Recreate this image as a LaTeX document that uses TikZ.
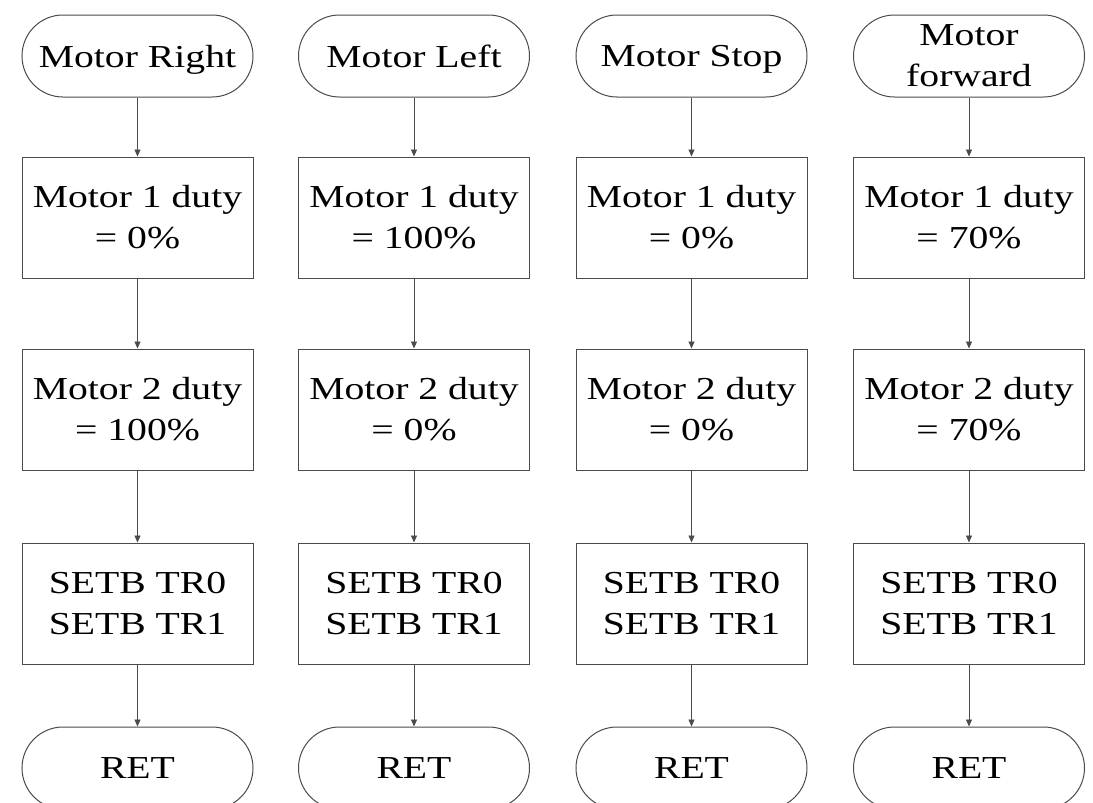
\documentclass[tikz,border=0pt]{standalone}
\usepackage{fontspec}
\setmainfont[FakeStretch=1.24]{Liberation Serif}
\usetikzlibrary{arrows.meta}
\definecolor{linec}{HTML}{4A4A4A}
\begin{document}
\begin{tikzpicture}[x=1pt,y=-1pt,
  lbl/.style={font=\fontsize{32}{41}\selectfont, text=black, align=center, inner sep=0pt},
  term/.style={lbl, draw=linec, line width=1pt, rounded corners=41pt, minimum width=231pt, minimum height=82pt, text depth=0pt},
  proc/.style={lbl, draw=linec, line width=1pt, minimum width=231pt, minimum height=121pt},
  flow/.style={draw=linec, line width=0.9pt, -{Triangle[length=7pt,width=6pt]}}]
\useasboundingbox (0,0) rectangle (1093,803);
\fill[white] (0,0) rectangle (1093,803);
\clip (0,0) rectangle (1093,803);
% column 1
\node[term] (t1) at (137.5,56) {Motor Right};
\node[proc] (a1) at (137.5,217.5) {Motor 1 duty\\= 0\%};
\node[proc] (b1) at (137.5,409.5) {Motor 2 duty\\= 100\%};
\node[proc] (c1) at (137.5,603.5) {SETB TR0\\SETB TR1};
\node[term] (r1) at (137.5,768) {RET};
% column 2
\node[term] (t2) at (414,56) {Motor Left};
\node[proc] (a2) at (414,217.5) {Motor 1 duty\\= 100\%};
\node[proc] (b2) at (414,409.5) {Motor 2 duty\\= 0\%};
\node[proc] (c2) at (414,603.5) {SETB TR0\\SETB TR1};
\node[term] (r2) at (414,768) {RET};
% column 3
\node[term] (t3) at (691.5,56) {Motor Stop};
\node[proc] (a3) at (691.5,217.5) {Motor 1 duty\\= 0\%};
\node[proc] (b3) at (691.5,409.5) {Motor 2 duty\\= 0\%};
\node[proc] (c3) at (691.5,603.5) {SETB TR0\\SETB TR1};
\node[term] (r3) at (691.5,768) {RET};
% column 4
\node[term] (t4) at (969,56) {Motor\\forward};
\node[proc] (a4) at (969,217.5) {Motor 1 duty\\= 70\%};
\node[proc] (b4) at (969,409.5) {Motor 2 duty\\= 70\%};
\node[proc] (c4) at (969,603.5) {SETB TR0\\SETB TR1};
\node[term] (r4) at (969,768) {RET};
\foreach \i in {1,2,3,4}{
  \draw[flow] (t\i) -- (a\i);
  \draw[flow] (a\i) -- (b\i);
  \draw[flow] (b\i) -- (c\i);
  \draw[flow] (c\i) -- (r\i);
}
\end{tikzpicture}
\end{document}
